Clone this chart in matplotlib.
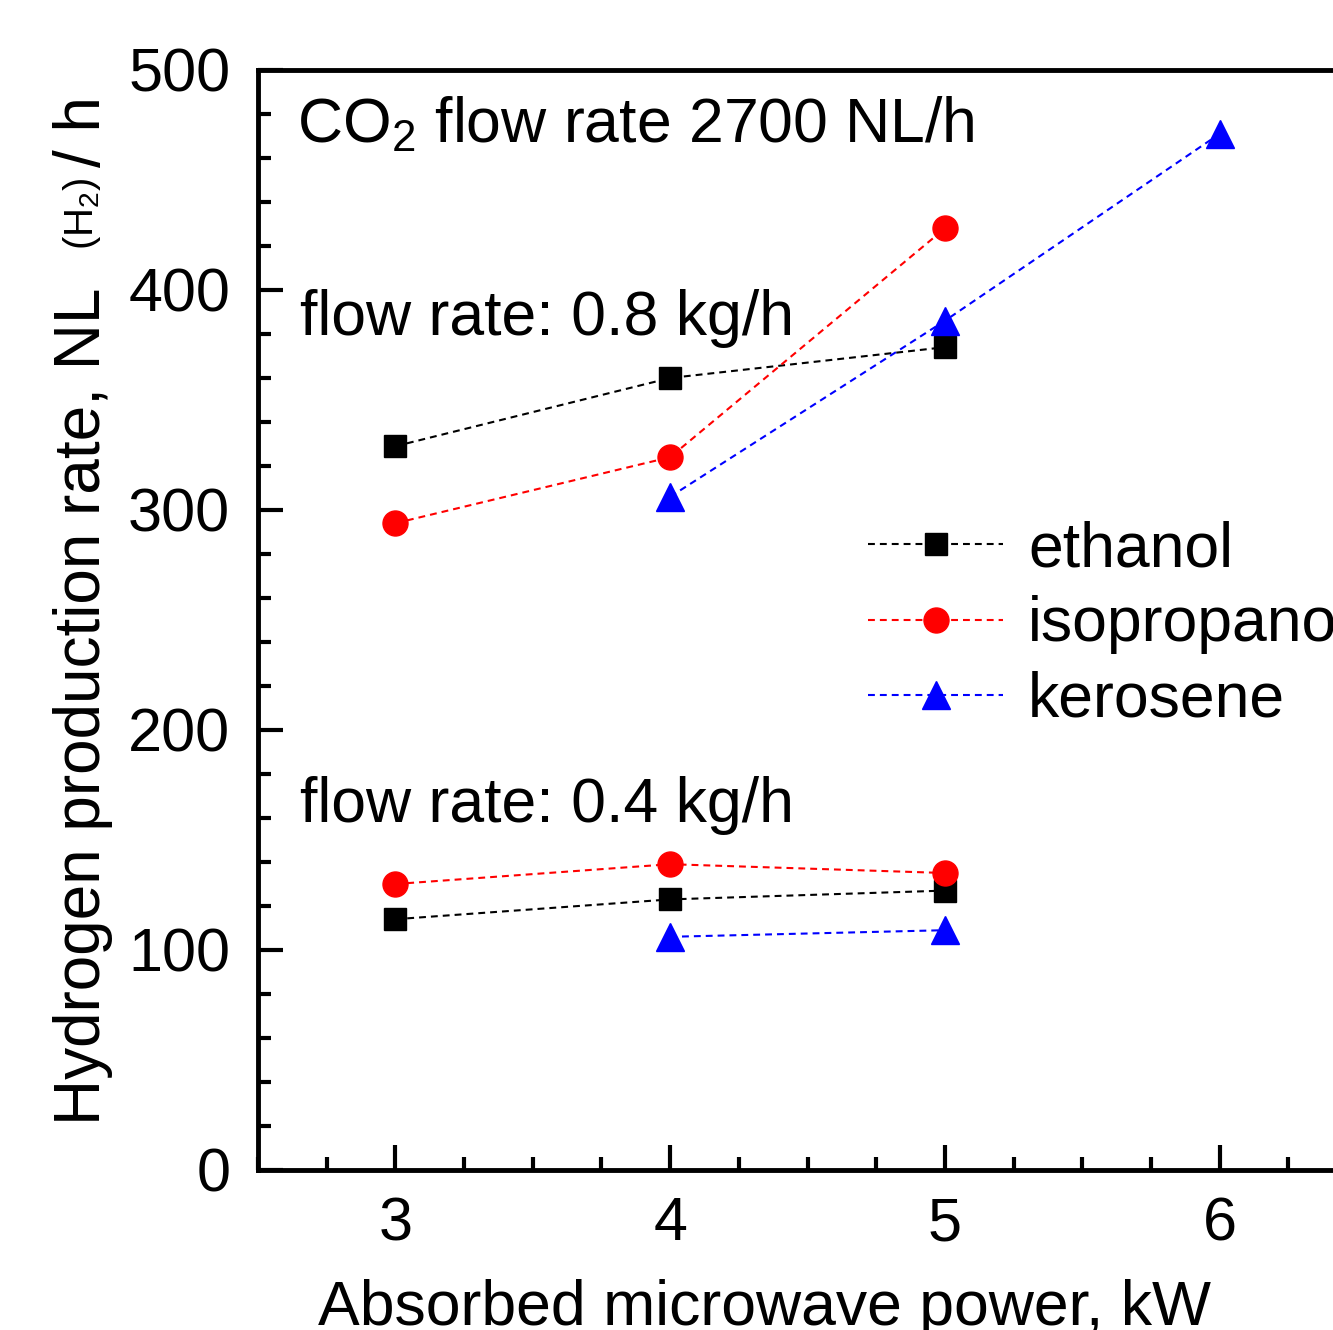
import matplotlib
matplotlib.use('Agg')
import matplotlib.pyplot as plt
from matplotlib.ticker import MultipleLocator

plt.rcParams['font.family'] = ['Liberation Sans', 'DejaVu Sans']
plt.rcParams['mathtext.fontset'] = 'custom'
plt.rcParams['mathtext.rm'] = 'Liberation Sans'
plt.rcParams['mathtext.it'] = 'Liberation Sans:italic'

# data (NL/h vs kW)
eth_hi_x = [3, 4, 5]
eth_hi_y = [329, 360, 374]
iso_hi_x = [3, 4, 5]
iso_hi_y = [294, 324, 428]
ker_hi_x = [4, 5, 6]
ker_hi_y = [306, 386, 471]

eth_lo_x = [3, 4, 5]
eth_lo_y = [114, 123, 127]
iso_lo_x = [3, 4, 5]
iso_lo_y = [130, 139, 135]
ker_lo_x = [4, 5]
ker_lo_y = [106, 109]

names = ['ethanol', 'isopropanol', 'kerosene']
colors = ['black', 'red', 'blue']
markers = ['s', 'o', '^']
msizes = [16.5, 18, 20]

fig = plt.figure(figsize=(13.33, 13.30), dpi=100)
ax = fig.add_axes([258 / 1333, 1 - 1170 / 1330, 1099 / 1333, 1100 / 1330])

dash = (0, (3.3, 2.4))
hi = [(eth_hi_x, eth_hi_y), (iso_hi_x, iso_hi_y), (ker_hi_x, ker_hi_y)]
lo = [(eth_lo_x, eth_lo_y), (iso_lo_x, iso_lo_y), (ker_lo_x, ker_lo_y)]
for i in range(3):
    ax.plot(hi[i][0], hi[i][1], color=colors[i], marker=markers[i], ms=msizes[i],
            ls=dash, lw=1.5, label=names[i], clip_on=False)
    ax.plot(lo[i][0], lo[i][1], color=colors[i], marker=markers[i], ms=msizes[i],
            ls=dash, lw=1.5, clip_on=False)

ax.set_xlim(2.5, 6.5)
ax.set_ylim(0, 500)
ax.xaxis.set_major_locator(MultipleLocator(1))
ax.xaxis.set_minor_locator(MultipleLocator(0.25))
ax.yaxis.set_major_locator(MultipleLocator(100))
ax.yaxis.set_minor_locator(MultipleLocator(20))
ax.tick_params(which='both', direction='in', width=3, labelsize=44)
ax.tick_params(which='major', length=18)
ax.tick_params(which='minor', length=9.5)
ax.tick_params(axis='x', pad=19)
ax.tick_params(axis='y', pad=20)
for s in ax.spines.values():
    s.set_linewidth(3.5)

ax.legend(loc='center left', bbox_to_anchor=(868 / 1333, 1 - 625 / 1330),
          bbox_transform=fig.transFigure, frameon=False, fontsize=45,
          borderpad=0, borderaxespad=0, handlelength=2.16, handletextpad=0.4,
          labelspacing=0.26)

fig.text(297 / 1333, 1 - 142 / 1330, r'CO$_\mathregular{2}$ flow rate 2700 NL/h',
         fontsize=45, va='baseline')
fig.text(300 / 1333, 1 - 335 / 1330, 'flow rate: 0.8 kg/h', fontsize=45, va='baseline')
fig.text(300 / 1333, 1 - 822 / 1330, 'flow rate: 0.4 kg/h', fontsize=45, va='baseline')

# axis titles
fig.text(765 / 1333, 1 - 1325 / 1330, 'Absorbed microwave power, kW',
         fontsize=45, ha='center', va='baseline')
fig.text(100 / 1333, 1 - 1125 / 1330, 'Hydrogen production rate, NL', fontsize=46,
         rotation=90, rotation_mode='anchor', ha='left', va='baseline')
fig.text(93 / 1333, 1 - 250 / 1330, r'(H$_\mathregular{2}$)', fontsize=29,
         rotation=90, rotation_mode='anchor', ha='left', va='baseline')
fig.text(100 / 1333, 1 - 167 / 1330, '/ h', fontsize=46,
         rotation=90, rotation_mode='anchor', ha='left', va='baseline')

fig.savefig('out.png', dpi=100)
